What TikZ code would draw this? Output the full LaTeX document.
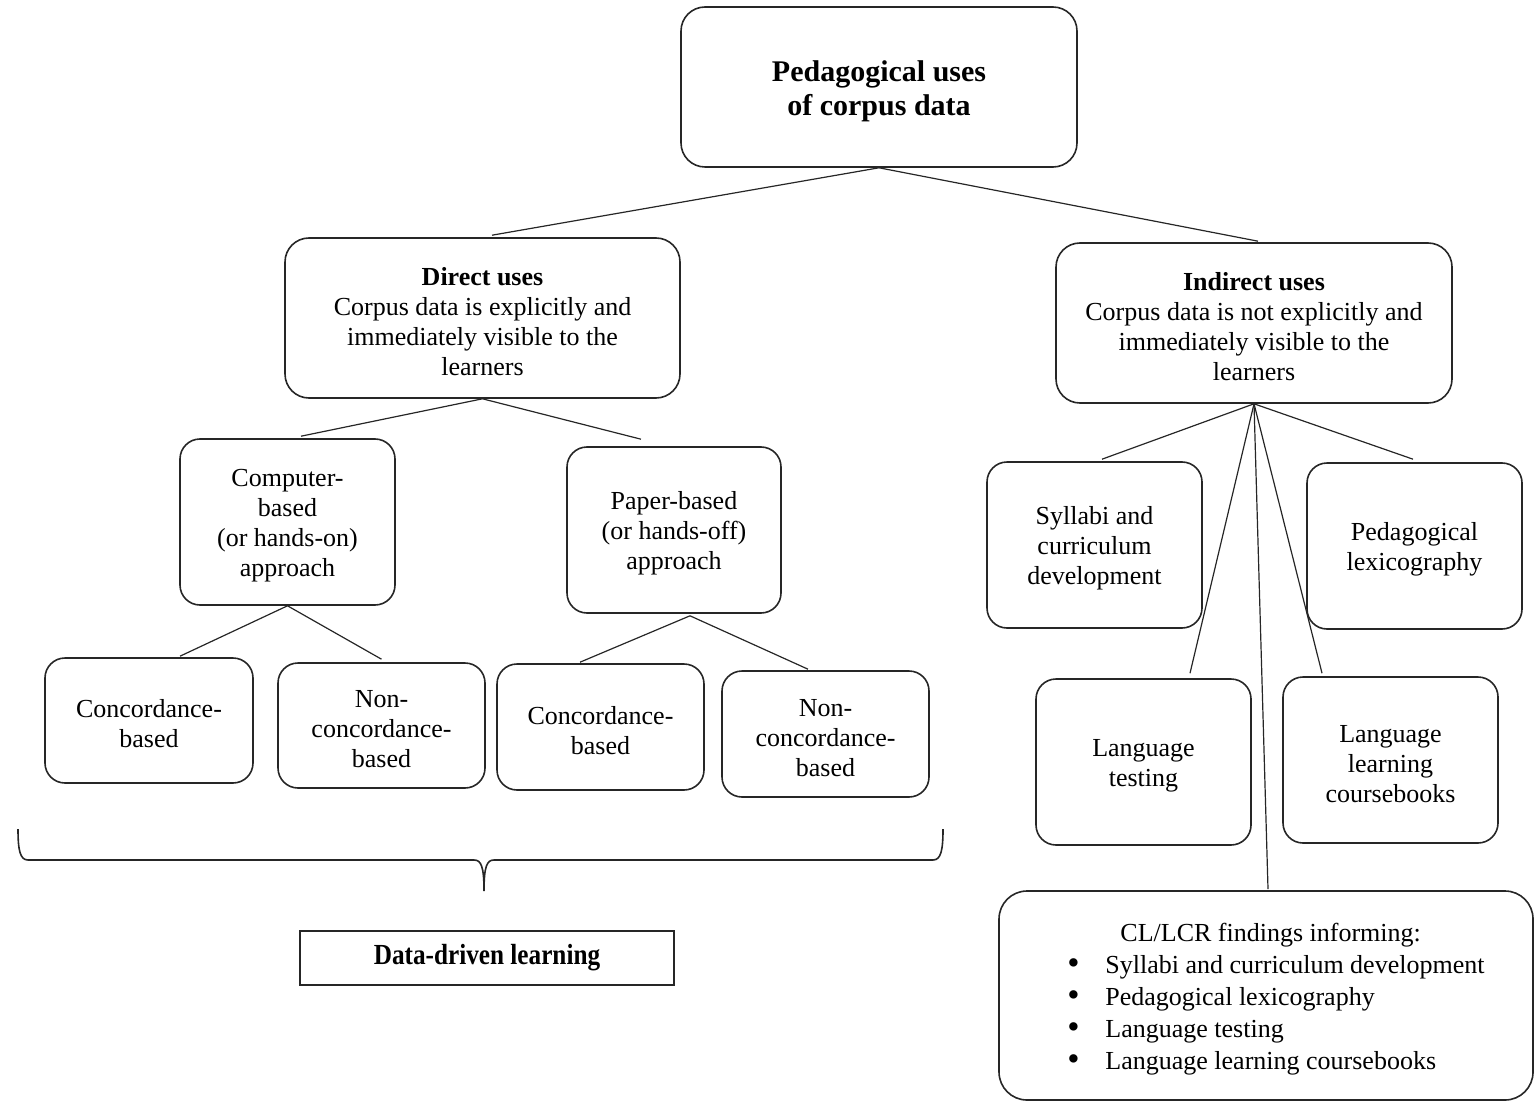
\documentclass[tikz,border=0pt]{standalone}
\usepackage{fontspec}
\setmainfont{Liberation Serif}
\usetikzlibrary{calc}

% a taller first line, so that every box's text sits a little lower
\newcommand{\bx}[1]{\rule{0pt}{12.5pt}#1}
\newcommand{\tx}[1]{\rule{0pt}{14.9pt}#1}
\newcommand{\listdot}{\makebox[19pt][l]{\raisebox{-0.3pt}{\scalebox{1.35}{\textbullet}}}}

\tikzset{
  box/.style={draw=black!85, line width=0.8pt, rounded corners=10pt, align=center,
    inner sep=0pt, font=\fontsize{13}{15}\selectfont},
  bigbox/.style={box, rounded corners=12pt},
  titlebox/.style={bigbox, font=\fontsize{15}{17}\selectfont\bfseries},
  link/.style={draw=black!85, line width=0.6pt},
}

\begin{document}
\begin{tikzpicture}[x=0.5pt, y=-0.5pt]
  \useasboundingbox (0,0) rectangle (1534,1101);

  % top level
  \node[titlebox, minimum width=198pt, minimum height=80pt] (root) at (879,87)
    {\tx{Pedagogical uses\\of corpus data}};

  % second level
  \node[bigbox, minimum width=197.5pt, minimum height=80pt] (direct) at (482.5,318)
    {\bx{\textbf{Direct uses}\\Corpus data is explicitly and\\immediately visible to the\\learners}};
  \node[bigbox, minimum width=198pt, minimum height=80pt] (indirect) at (1254,323)
    {\bx{\textbf{Indirect uses}\\Corpus data is not explicitly and\\immediately visible to the\\learners}};

  % direct uses branch
  \node[box, minimum width=107.5pt, minimum height=83pt] (comp) at (287.5,522)
    {\bx{Computer-\\based\\(or hands-on)\\approach}};
  \node[box, minimum width=107pt, minimum height=83pt] (paper) at (674,530)
    {\bx{Paper-based\\(or hands-off)\\approach}};

  \node[box, minimum width=104pt, minimum height=62.5pt] (conc1) at (149,720.5)
    {\bx{Concordance-\\based}};
  \node[box, minimum width=103.5pt, minimum height=62.5pt] (non1) at (381.5,725.5)
    {\bx{Non-\\concordance-\\based}};
  \node[box, minimum width=103.5pt, minimum height=63pt] (conc2) at (600.5,727)
    {\bx{Concordance-\\based}};
  \node[box, minimum width=103.5pt, minimum height=63pt] (non2) at (825.5,734)
    {\bx{Non-\\concordance-\\based}};

  % indirect uses branch
  \node[box, minimum width=107.5pt, minimum height=83pt] (syll) at (1094.5,545)
    {\bx{Syllabi and\\curriculum\\development}};
  \node[box, minimum width=107.5pt, minimum height=83pt] (lexi) at (1414.5,546)
    {\bx{Pedagogical\\lexicography}};
  \node[box, minimum width=107.5pt, minimum height=83pt] (test) at (1143.5,762)
    {\bx{Language\\testing}};
  \node[box, minimum width=107.5pt, minimum height=83pt] (books) at (1390.5,760)
    {\bx{Language\\learning\\coursebooks}};

  \node[box, rounded corners=14pt, minimum width=267pt, minimum height=104.5pt] (cl) at (1266,995.5) {};
  \node[anchor=north west, align=left, inner sep=0pt, font=\fontsize{13}{16}\selectfont] (cltext) at (1067,923)
    {\hspace*{26.5pt}CL/LCR findings informing:\\
     \listdot Syllabi and curriculum development\\
     \listdot Pedagogical lexicography\\
     \listdot Language testing\\
     \listdot Language learning coursebooks};

  % data-driven learning label
  \node[draw=black!85, line width=0.8pt, minimum width=187pt, minimum height=27pt, inner sep=0pt,
        font=\fontsize{13}{15}\selectfont\bfseries] (ddl) at (487,958)
    {\scalebox{0.97}[1.12]{Data-driven learning}};

  % connectors
  \draw[link] (root.south) -- ($(direct.north)+(9.5,-2)$);
  \draw[link] (root.south) -- ($(indirect.north)+(4,-1)$);

  \draw[link] (direct.south) -- ($(comp.north)+(13.5,-2)$);
  \draw[link] (direct.south) -- ($(paper.north)+(-33,-7)$);

  \draw[link] (comp.south) -- ($(conc1.north)+(31,-1)$);
  \draw[link] (comp.south) -- ($(non1.north)+(0,-3)$);
  \draw[link] ($(paper.south)+(16,2)$) -- ($(conc2.north)+(-20.5,-1)$);
  \draw[link] ($(paper.south)+(16,2)$) -- ($(non2.north)+(-17.5,-1)$);

  \draw[link] (indirect.south) -- ($(syll.north)+(7.5,-2)$);
  \draw[link] (indirect.south) -- ($(lexi.north)+(-1.5,-3)$);
  \draw[link] (indirect.south) -- ($(test.north)+(46.5,-5)$);
  \draw[link] (indirect.south) -- ($(books.north)+(-68.5,-3)$);
  \draw[link] (indirect.south) -- ($(cl.north)+(2,-1)$);

  % brace grouping the direct-use approaches
  \coordinate (braceL) at (18,829);
  \coordinate (braceR) at (943,829);
  \coordinate (braceTip) at (484,891);
  \draw[draw=black!85, line width=0.8pt]
    (braceL) .. controls (18,850) and (20,860) .. (28,860) -- (474,860)
    .. controls (481,860) and (484,866) .. (braceTip)
    .. controls (484,866) and (487,860) .. (494,860) -- (933,860)
    .. controls (941,860) and (943,850) .. (braceR);
\end{tikzpicture}
\end{document}
